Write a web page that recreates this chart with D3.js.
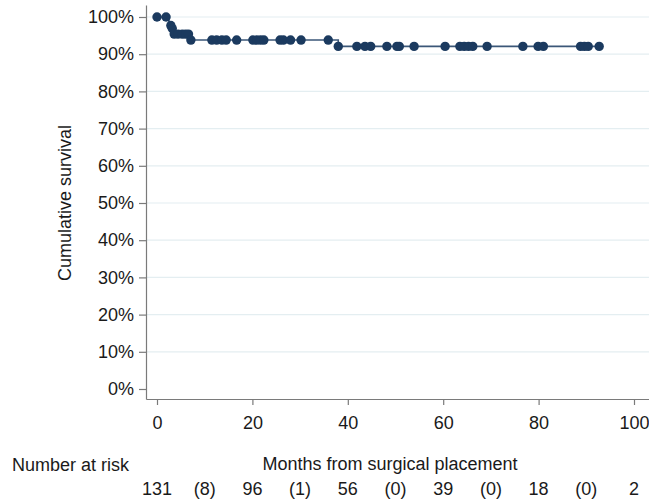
<!DOCTYPE html>
<html>
<head>
<meta charset="utf-8">
<script src="https://cdn.jsdelivr.net/npm/d3@7"></script>
<style>
  html, body { margin: 0; padding: 0; background: #fff; }
  svg { display: block; font-family: "Liberation Sans", Arial, Helvetica, sans-serif; }
</style>
</head>
<body>
<div id="chart"></div>
<script>
// ---- data ----
const stepTimes = [0, 2.5, 3.0, 3.4, 7.0, 38.0];
const stepSurv  = [1.0, 0.977, 0.969, 0.954, 0.938, 0.921];
const endTime = 92.7;
const censorTimes = [0, 1.9, 2.9, 3.2, 3.6, 4.4, 5.3, 6.0, 6.6, 7.1,
  11.5, 12.5, 13.6, 14.5, 16.7, 20.1, 20.9, 21.7, 22.4, 25.8, 26.5, 28.0, 30.2, 35.9,
  38.0, 41.9, 43.6, 44.8, 48.2, 50.3, 50.8, 53.9, 60.4, 63.5, 64.4, 65.3, 66.2, 69.2,
  76.7, 79.9, 81.0, 88.8, 89.6, 90.4, 92.7];
const xTicks = [0, 20, 40, 60, 80, 100];
const yTicks = [0, 0.1, 0.2, 0.3, 0.4, 0.5, 0.6, 0.7, 0.8, 0.9, 1.0];
const riskTimes = [0, 10, 20, 30, 40, 50, 60, 70, 80, 90, 100];
const riskLabels = ["131", "(8)", "96", "(1)", "56", "(0)", "39", "(0)", "18", "(0)", "2"];

// ---- layout ----
const W = 649, H = 500;
const axisLeft = 146, axisBottom = 399, axisTop = 5, axisRight = 649;
const x = d3.scaleLinear().domain([0, 100]).range([157, 634]);
const y = d3.scaleLinear().domain([0, 1]).range([389, 17]);
const xAxisScale = d3.scaleLinear().domain([x.invert(axisLeft), x.invert(axisRight)]).range([axisLeft, axisRight]);
const yAxisScale = d3.scaleLinear().domain([y.invert(axisBottom), y.invert(axisTop)]).range([axisBottom, axisTop]);

const svg = d3.select("#chart").append("svg").attr("width", W).attr("height", H);

// gridlines
svg.append("g").selectAll("line").data(yTicks.filter(d => d > 0)).join("line")
  .attr("x1", axisLeft).attr("x2", axisRight)
  .attr("y1", d => y(d)).attr("y2", d => y(d))
  .attr("stroke", "#e4eef1").attr("stroke-width", 1.2);

// axes
const gx = svg.append("g").attr("transform", `translate(0,${axisBottom})`)
  .call(d3.axisBottom(xAxisScale).tickValues(xTicks).tickSize(6).tickSizeOuter(0).tickPadding(11).tickFormat(d3.format("d")));
const gy = svg.append("g").attr("transform", `translate(${axisLeft},0)`)
  .call(d3.axisLeft(yAxisScale).tickValues(yTicks).tickSize(7).tickSizeOuter(0).tickPadding(5).tickFormat(d => Math.round(d * 100) + "%"));
[gx, gy].forEach(g => {
  g.select(".domain").attr("stroke", "#7a7a7a").attr("stroke-width", 1.2);
  g.selectAll(".tick line").attr("stroke", "#7a7a7a").attr("stroke-width", 1.2);
  g.selectAll(".tick text").attr("fill", "#1a1a1a").style("font-size", "18px").style("font-family", "'Liberation Sans', Arial, sans-serif");
});

// KM step line
const stepPts = stepTimes.map((t, i) => [t, stepSurv[i]]);
stepPts.push([endTime, stepSurv[stepSurv.length - 1]]);
svg.append("path").datum(stepPts)
  .attr("fill", "none").attr("stroke", "#3b5778").attr("stroke-width", 1.6)
  .attr("d", d3.line().x(d => x(d[0])).y(d => y(d[1])).curve(d3.curveStepAfter));

// censor markers
function survAt(t) {
  let s = stepSurv[0];
  for (let i = 0; i < stepTimes.length; i++) if (t >= stepTimes[i]) s = stepSurv[i];
  return s;
}
svg.append("g").selectAll("circle").data(censorTimes).join("circle")
  .attr("cx", d => x(d)).attr("cy", d => y(survAt(d))).attr("r", 4.7)
  .attr("fill", "#1b3a5f");

// titles
svg.append("text").attr("transform", `translate(71,${(y(0) + y(1)) / 2}) rotate(-90)`)
  .attr("text-anchor", "middle").attr("fill", "#1a1a1a").style("font-size", "18px")
  .text("Cumulative survival");
svg.append("text").attr("x", 390).attr("y", 470)
  .attr("text-anchor", "middle").attr("fill", "#1a1a1a").style("font-size", "18px")
  .text("Months from surgical placement");
svg.append("text").attr("x", 12).attr("y", 471)
  .attr("text-anchor", "start").attr("fill", "#1a1a1a").style("font-size", "18px")
  .text("Number at risk");

// risk table
svg.append("g").selectAll("text").data(riskTimes).join("text")
  .attr("x", d => x(d)).attr("y", 495)
  .attr("text-anchor", "middle").attr("fill", "#1a1a1a").style("font-size", "18px")
  .text((d, i) => riskLabels[i]);
</script>
</body>
</html>
